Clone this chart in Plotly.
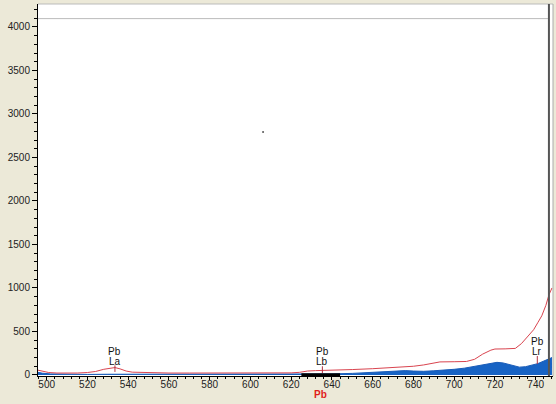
import plotly.graph_objects as go

# Envelope (red) curve: channel, counts
env_x = [495.7, 498, 501, 505, 510, 515, 520, 524, 528, 531, 533.5, 536, 539, 542, 546, 550, 555,
         560, 570, 580, 590, 600, 610, 620, 624, 628, 632, 640, 645, 650, 660, 668, 672, 676, 680,
         685, 690, 693, 700, 706, 710, 714, 718, 720, 725, 730, 733, 736, 739, 741, 743, 745, 746.5, 748]
env_y = [55, 45, 28, 22, 20, 22, 28, 40, 65, 80, 85, 70, 45, 32, 28, 30, 26,
         22, 22, 21, 22, 23, 24, 24, 30, 45, 50, 52, 55, 62, 72, 80, 85, 95, 100,
         115, 140, 150, 152, 155, 180, 240, 285, 298, 300, 305, 360, 440, 520, 600, 680, 800, 920, 1000]

# Spectrum (blue filled)
spec_x = [495.7, 498, 502, 510, 520, 530, 535, 540, 560, 600, 620, 630, 640, 650, 660, 665, 670, 676,
          680, 685, 690, 695, 700, 705, 710, 714, 718, 721, 724, 728, 732, 735, 738, 741, 744, 746, 748]
spec_y = [30, 20, 12, 8, 6, 8, 8, 6, 5, 5, 6, 10, 12, 18, 28, 35, 40, 50,
          45, 42, 48, 55, 65, 78, 100, 120, 135, 145, 138, 110, 90, 95, 110, 130, 160, 180, 200]

# Line markers
mark_lines = ["La", "Lb", "Lr"]
mark_x = [533.5, 635.3, 740.8]
mark_tick_lo = [35, 20, 126]
mark_tick_hi = [110, 100, 218]
mark_pb_y = [264, 264, 379]
mark_line_y = [149, 149, 264]

x_range = [495.73, 748.5]
y_range = [-12, 4264]
sat_level = 4096
cursor_x = 746.5
roi = [625, 644]

fig = go.Figure()
fig.add_trace(go.Scatter(x=spec_x, y=spec_y, mode="lines", fill="tozeroy",
                         line=dict(color="#1a5cb8", width=1), fillcolor="#1763c4",
                         hoverinfo="skip", showlegend=False))
fig.add_trace(go.Scatter(x=env_x, y=env_y, mode="lines",
                         line=dict(color="#d9444f", width=1), showlegend=False))
fig.add_trace(go.Scatter(x=[606.2], y=[2793], mode="markers",
                         marker=dict(size=2, color="#555555"), showlegend=False))

shapes = []
for i in range(len(mark_x)):
    shapes.append(dict(type="line", x0=mark_x[i], x1=mark_x[i], y0=mark_tick_lo[i], y1=mark_tick_hi[i],
                       line=dict(color="#b03040", width=1)))
shapes.append(dict(type="line", xref="x", yref="y", x0=x_range[0], x1=cursor_x, y0=sat_level, y1=sat_level,
                   line=dict(color="#bbbbbb", width=1)))
shapes.append(dict(type="line", xref="paper", yref="paper", x0=0, x1=1, y0=1, y1=1,
                   line=dict(color="#bbbbbb", width=1)))
shapes.append(dict(type="line", xref="x", yref="paper", x0=cursor_x, x1=cursor_x, y0=0, y1=1,
                   line=dict(color="#555555", width=2)))
shapes.append(dict(type="line", xref="paper", yref="paper", x0=1, x1=1, y0=0, y1=1,
                   line=dict(color="#aaaaaa", width=1)))
shapes.append(dict(type="line", xref="x", yref="y", x0=roi[0], x1=roi[1], y0=2, y1=2,
                   line=dict(color="#000000", width=3)))

annotations = []
for i in range(len(mark_x)):
    annotations.append(dict(x=mark_x[i], y=mark_pb_y[i], text="Pb", showarrow=False,
                            font=dict(size=10, color="#111111", family="Liberation Sans"),
                            xanchor="center", yanchor="middle"))
    annotations.append(dict(x=mark_x[i], y=mark_line_y[i], text=mark_lines[i], showarrow=False,
                            font=dict(size=10, color="#111111", family="Liberation Sans"),
                            xanchor="center", yanchor="middle"))
annotations.append(dict(x=634.6, xref="x", y=-0.051, yref="paper", text="<b>Pb</b>", showarrow=False,
                        font=dict(size=10, color="#e0201a", family="Liberation Sans"),
                        xanchor="center", yanchor="middle"))

fig.update_layout(
    width=556, height=404,
    margin=dict(l=38, r=3, t=4, b=28),
    paper_bgcolor="#ece9d8", plot_bgcolor="#ffffff",
    font=dict(family="Liberation Sans", size=10, color="#222222"),
    shapes=shapes, annotations=annotations,
    xaxis=dict(range=x_range, showgrid=False, zeroline=False, showline=True, linecolor="#000000",
               linewidth=1, ticks="outside", ticklen=3, tickcolor="#000000", dtick=20, tick0=500,
               ticklabelstandoff=-4,
               minor=dict(dtick=4, ticks="outside", ticklen=2, tickcolor="#000000"),
               tickfont=dict(size=10, color="#222222")),
    yaxis=dict(range=y_range, showgrid=False, zeroline=False, showline=True, linecolor="#000000",
               linewidth=1, ticks="outside", ticklen=5, tickcolor="#000000", dtick=500, tick0=0,
               minor=dict(dtick=100, ticks="outside", ticklen=3, tickcolor="#000000"),
               tickfont=dict(size=10, color="#222222")),
)

fig.write_html("out.html", config={"displayModeBar": False},
               post_script="document.body.style.margin='0';document.body.style.padding='0';"
                           "document.body.style.overflow='hidden';document.body.style.background='#ece9d8';")
